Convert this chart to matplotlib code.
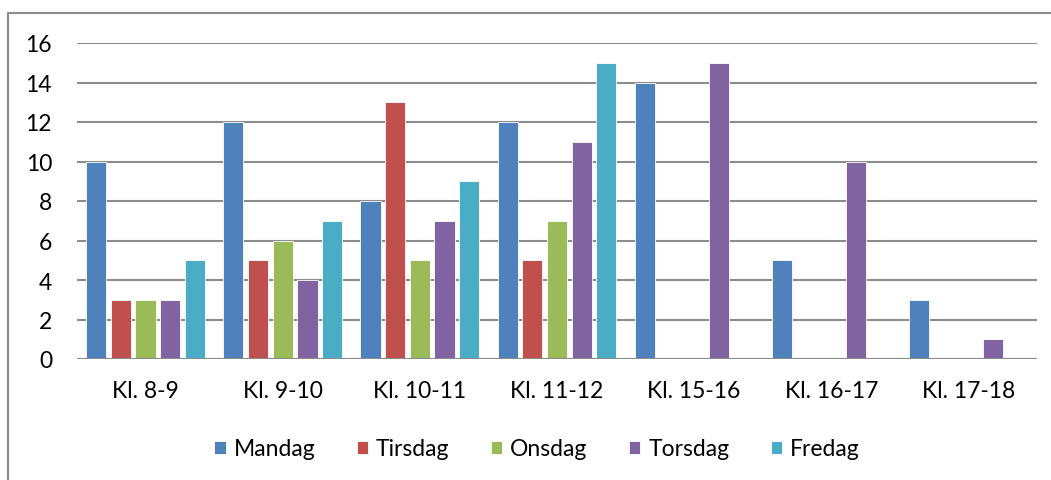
import numpy as np
import matplotlib.pyplot as plt
from matplotlib.patches import Rectangle

plt.rcParams['font.family'] = ['Lato', 'DejaVu Sans']

kategorier = ["Kl. 8-9", "Kl. 9-10", "Kl. 10-11", "Kl. 11-12", "Kl. 15-16", "Kl. 16-17", "Kl. 17-18"]
mandag = [10, 12, 8, 12, 14, 5, 3]
tirsdag = [3, 5, 13, 5, 0, 0, 0]
onsdag = [3, 6, 5, 7, 0, 0, 0]
torsdag = [3, 4, 7, 11, 15, 10, 1]
fredag = [5, 7, 9, 15, 0, 0, 0]

dager = ["Mandag", "Tirsdag", "Onsdag", "Torsdag", "Fredag"]
serier = [mandag, tirsdag, onsdag, torsdag, fredag]
farger = ["#4F81BD", "#C0504D", "#9BBB59", "#8064A2", "#4BACC6"]

fig = plt.figure(figsize=(10.51, 4.81), dpi=100)
ax = fig.add_axes([77/1051, 1 - 360/481, 960/1051, 316/481])

x = np.arange(len(kategorier))
slot = 0.18
for i, (navn, verdier, farge) in enumerate(zip(dager, serier, farger)):
    ax.bar(x + (i - 2) * slot, verdier, width=slot * 0.82, color=farge,
           edgecolor="white", linewidth=0.6, label=navn, zorder=3)

ax.set_xlim(-0.5, len(kategorier) - 0.5)
ax.set_ylim(0, 16)
ax.set_yticks(range(0, 17, 2))
ax.set_xticks(x)
ax.set_xticklabels(kategorier)
ax.yaxis.grid(True, color="#8c8c8c", linewidth=1.5, zorder=0)
for s in ax.spines.values():
    s.set_visible(False)
ax.axhline(0, color="#8c8c8c", linewidth=1.5, zorder=4)
ax.tick_params(axis="both", length=0, labelsize=16.5, labelcolor="black")
ax.tick_params(axis="y", pad=18)
ax.tick_params(axis="x", pad=15)

leg = ax.legend(loc="center", bbox_to_anchor=(0.511, 1 - 450/481), bbox_transform=fig.transFigure,
                ncol=5, frameon=False, fontsize=16.5, handlelength=0.5, handleheight=0.5,
                handletextpad=0.35, columnspacing=1.8)

# ramme rundt diagrammet
fig.add_artist(Rectangle((8/1051, -0.1), 1.2, 1 - 14/481 + 0.1, transform=fig.transFigure,
                         fill=False, edgecolor="#8c8c8c", linewidth=1.5))

fig.savefig("out.png", dpi=100)
